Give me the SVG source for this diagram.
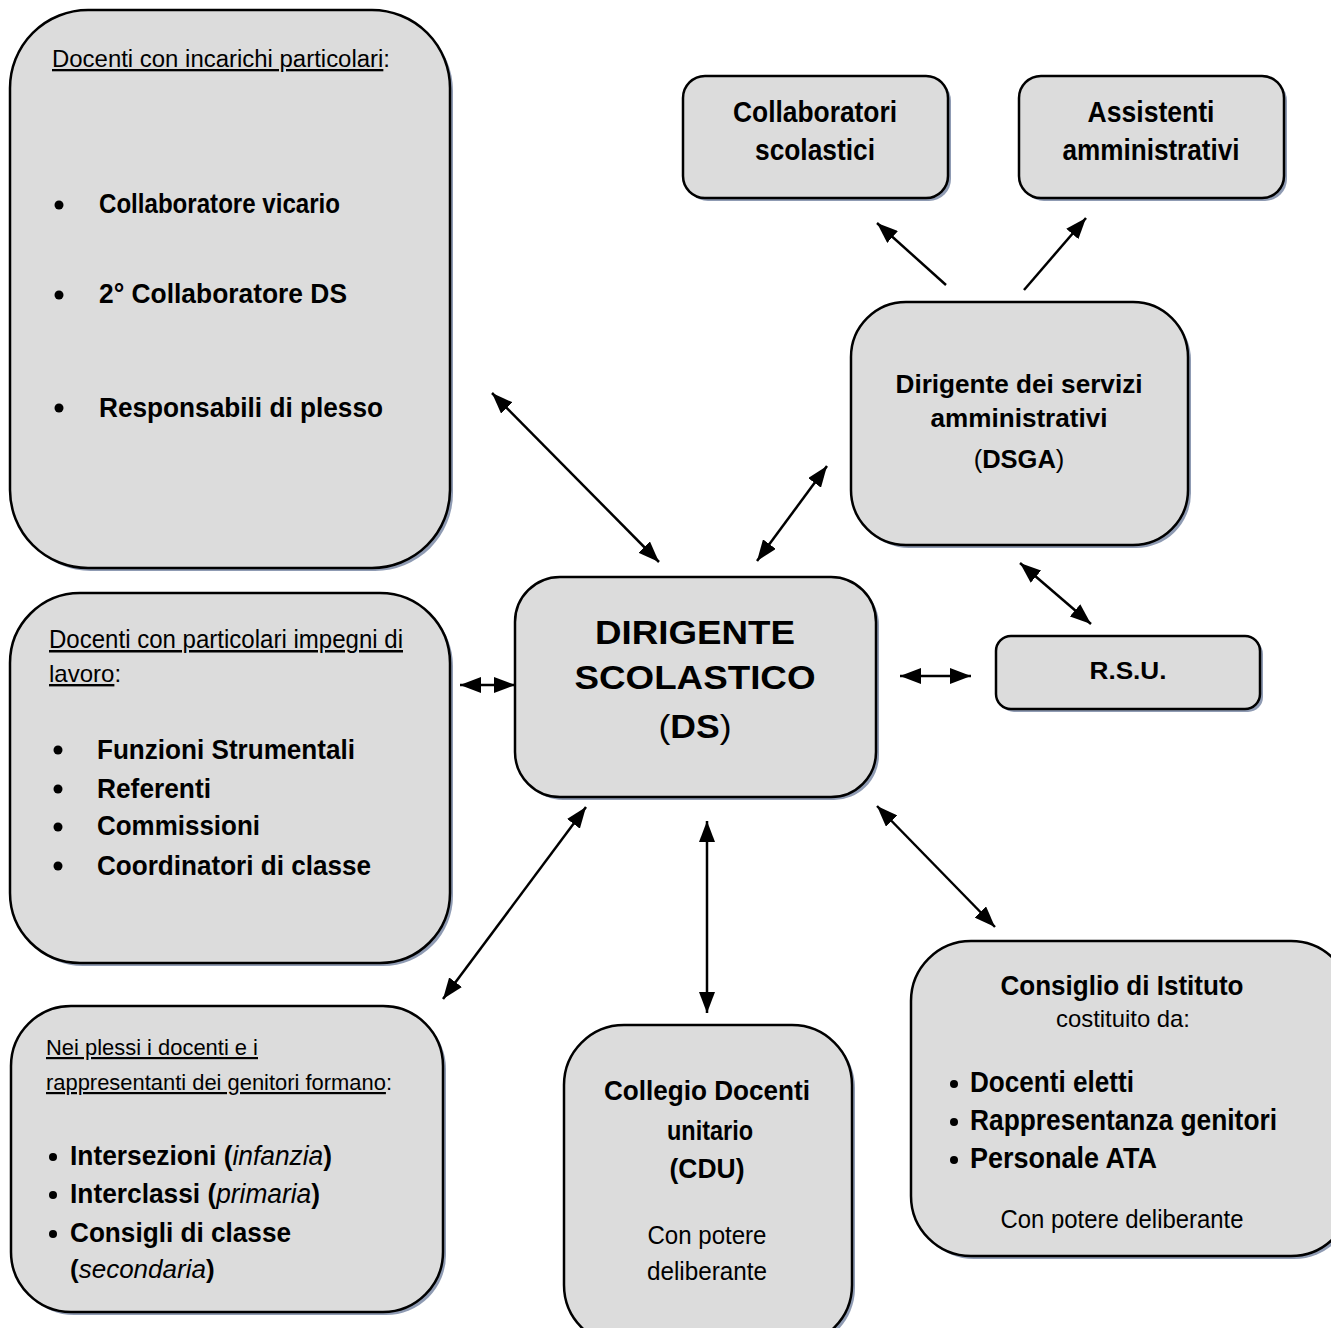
<svg xmlns="http://www.w3.org/2000/svg" width="1331" height="1328" viewBox="0 0 1331 1328">
<style>
.box{fill:#dcdcdc;stroke:#000;stroke-width:2.5}
.sh{fill:#8f9bb3;stroke:none}
.n{font-family:"Liberation Sans",Arial,sans-serif;fill:#000}
.b{font-weight:bold}
.c{text-anchor:middle}
.u{text-decoration:underline}
.con line{stroke:#000;stroke-width:2.5}
</style>
<defs>
<marker id="ah" viewBox="0 0 10 10" refX="10" refY="5" markerWidth="21" markerHeight="16" markerUnits="userSpaceOnUse" orient="auto-start-reverse" preserveAspectRatio="none">
<path d="M0,0 L10,5 L0,10 z" fill="#000"/>
</marker>
</defs>
<rect width="1331" height="1328" fill="#fff"/>

<g id="docenti-incarichi">
<rect class="sh" x="13" y="13" width="440" height="558" rx="78"/>
<rect class="box" x="10" y="10" width="440" height="558" rx="78"/>
<text class="n" x="52" y="67" font-size="23" textLength="338" lengthAdjust="spacingAndGlyphs"><tspan class="u">Docenti con incarichi particolari</tspan>:</text>
<circle cx="59" cy="205" r="4.5"/>
<text class="n b" x="99" y="213" font-size="27" textLength="241" lengthAdjust="spacingAndGlyphs">Collaboratore vicario</text>
<circle cx="59" cy="295" r="4.5"/>
<text class="n b" x="99" y="303" font-size="27" textLength="248" lengthAdjust="spacingAndGlyphs">2° Collaboratore DS</text>
<circle cx="59" cy="408" r="4.5"/>
<text class="n b" x="99" y="417" font-size="27" textLength="284" lengthAdjust="spacingAndGlyphs">Responsabili di plesso</text>
</g>

<g id="docenti-impegni">
<rect class="sh" x="13" y="596" width="440" height="370" rx="70"/>
<rect class="box" x="10" y="593" width="440" height="370" rx="70"/>
<text class="n u" x="49" y="648" font-size="25" textLength="354" lengthAdjust="spacingAndGlyphs">Docenti con particolari impegni di</text>
<text class="n" x="49" y="682" font-size="24"><tspan class="u">lavoro</tspan>:</text>
<circle cx="58" cy="750" r="4.5"/>
<text class="n b" x="97" y="759" font-size="28" textLength="258" lengthAdjust="spacingAndGlyphs">Funzioni Strumentali</text>
<circle cx="58" cy="789" r="4.5"/>
<text class="n b" x="97" y="798" font-size="28" textLength="114" lengthAdjust="spacingAndGlyphs">Referenti</text>
<circle cx="58" cy="827" r="4.5"/>
<text class="n b" x="97" y="835" font-size="28" textLength="163" lengthAdjust="spacingAndGlyphs">Commissioni</text>
<circle cx="58" cy="866" r="4.5"/>
<text class="n b" x="97" y="875" font-size="28" textLength="274" lengthAdjust="spacingAndGlyphs">Coordinatori di classe</text>
</g>

<g id="plessi">
<rect class="sh" x="14" y="1009" width="432" height="306" rx="60"/>
<rect class="box" x="11" y="1006" width="432" height="306" rx="60"/>
<text class="n u" x="46" y="1055" font-size="22" textLength="212" lengthAdjust="spacingAndGlyphs">Nei plessi i docenti e i</text>
<text class="n" x="46" y="1090" font-size="22" textLength="346" lengthAdjust="spacingAndGlyphs"><tspan class="u">rappresentanti dei genitori formano</tspan>:</text>
<circle cx="53" cy="1157" r="4"/>
<text class="n" x="70" y="1165" font-size="27" textLength="262" lengthAdjust="spacingAndGlyphs"><tspan class="b">Intersezioni (</tspan><tspan font-style="italic">infanzia</tspan><tspan class="b">)</tspan></text>
<circle cx="53" cy="1195" r="4"/>
<text class="n" x="70" y="1203" font-size="27" textLength="250" lengthAdjust="spacingAndGlyphs"><tspan class="b">Interclassi (</tspan><tspan font-style="italic">primaria</tspan><tspan class="b">)</tspan></text>
<circle cx="53" cy="1234" r="4"/>
<text class="n b" x="70" y="1242" font-size="27" textLength="221" lengthAdjust="spacingAndGlyphs">Consigli di classe</text>
<text class="n" x="70" y="1278" font-size="26"><tspan class="b">(</tspan><tspan font-style="italic">secondaria</tspan><tspan class="b">)</tspan></text>
</g>

<g id="ds">
<rect class="sh" x="518" y="580" width="361" height="220" rx="45"/>
<rect class="box" x="515" y="577" width="361" height="220" rx="45"/>
<text class="n b c" x="695" y="644" font-size="34" textLength="200" lengthAdjust="spacingAndGlyphs">DIRIGENTE</text>
<text class="n b c" x="695" y="689" font-size="34" textLength="241" lengthAdjust="spacingAndGlyphs">SCOLASTICO</text>
<text class="n c" x="695" y="738" font-size="34" textLength="73" lengthAdjust="spacingAndGlyphs">(<tspan class="b">DS</tspan>)</text>
</g>

<g id="collaboratori">
<rect class="sh" x="686" y="79" width="265" height="122" rx="22"/>
<rect class="box" x="683" y="76" width="265" height="122" rx="22"/>
<text class="n b c" x="815" y="122" font-size="29" textLength="164" lengthAdjust="spacingAndGlyphs">Collaboratori</text>
<text class="n b c" x="815" y="160" font-size="29" textLength="120" lengthAdjust="spacingAndGlyphs">scolastici</text>
</g>

<g id="assistenti">
<rect class="sh" x="1022" y="79" width="265" height="122" rx="22"/>
<rect class="box" x="1019" y="76" width="265" height="122" rx="22"/>
<text class="n b c" x="1151" y="122" font-size="29" textLength="127" lengthAdjust="spacingAndGlyphs">Assistenti</text>
<text class="n b c" x="1151" y="160" font-size="29" textLength="177" lengthAdjust="spacingAndGlyphs">amministrativi</text>
</g>

<g id="dsga">
<rect class="sh" x="854" y="305" width="337" height="243" rx="55"/>
<rect class="box" x="851" y="302" width="337" height="243" rx="55"/>
<text class="n b c" x="1019" y="393" font-size="26" textLength="247" lengthAdjust="spacingAndGlyphs">Dirigente dei servizi</text>
<text class="n b c" x="1019" y="427" font-size="26" textLength="177" lengthAdjust="spacingAndGlyphs">amministrativi</text>
<text class="n c" x="1019" y="468" font-size="25.5">(<tspan class="b">DSGA</tspan>)</text>
</g>

<g id="rsu">
<rect class="sh" x="999" y="639" width="264" height="73" rx="15"/>
<rect class="box" x="996" y="636" width="264" height="73" rx="15"/>
<text class="n b c" x="1128" y="679" font-size="23" textLength="77" lengthAdjust="spacingAndGlyphs">R.S.U.</text>
</g>

<g id="cdu">
<rect class="sh" x="567" y="1028" width="288" height="320" rx="60"/>
<rect class="box" x="564" y="1025" width="288" height="320" rx="60"/>
<text class="n b c" x="707" y="1100" font-size="28" textLength="206" lengthAdjust="spacingAndGlyphs">Collegio Docenti</text>
<text class="n b c" x="710" y="1140" font-size="28" textLength="86" lengthAdjust="spacingAndGlyphs">unitario</text>
<text class="n b c" x="707" y="1178" font-size="28" textLength="75" lengthAdjust="spacingAndGlyphs">(CDU)</text>
<text class="n c" x="707" y="1244" font-size="26" textLength="119" lengthAdjust="spacingAndGlyphs">Con potere</text>
<text class="n c" x="707" y="1280" font-size="26" textLength="120" lengthAdjust="spacingAndGlyphs">deliberante</text>
</g>

<g id="consiglio-istituto">
<rect class="sh" x="914" y="944" width="440" height="315" rx="60"/>
<rect class="box" x="911" y="941" width="440" height="315" rx="60"/>
<text class="n b c" x="1122" y="995" font-size="28" textLength="243" lengthAdjust="spacingAndGlyphs">Consiglio di Istituto</text>
<text class="n c" x="1123" y="1027" font-size="24" textLength="134" lengthAdjust="spacingAndGlyphs">costituito da:</text>
<circle cx="954" cy="1084" r="4"/>
<text class="n b" x="970" y="1092" font-size="29" textLength="164" lengthAdjust="spacingAndGlyphs">Docenti eletti</text>
<circle cx="954" cy="1122" r="4"/>
<text class="n b" x="970" y="1130" font-size="29" textLength="307" lengthAdjust="spacingAndGlyphs">Rappresentanza genitori</text>
<circle cx="954" cy="1160" r="4"/>
<text class="n b" x="970" y="1168" font-size="29" textLength="187" lengthAdjust="spacingAndGlyphs">Personale ATA</text>
<text class="n c" x="1122" y="1228" font-size="26" textLength="243" lengthAdjust="spacingAndGlyphs">Con potere deliberante</text>
</g>

<g id="connectors" class="con">
<line x1="492" y1="393" x2="659" y2="562" marker-start="url(#ah)" marker-end="url(#ah)"/>
<line x1="757" y1="561" x2="827" y2="466" marker-start="url(#ah)" marker-end="url(#ah)"/>
<line x1="946" y1="285" x2="877" y2="223" marker-end="url(#ah)"/>
<line x1="1024" y1="290" x2="1086" y2="218" marker-end="url(#ah)"/>
<line x1="1020" y1="563" x2="1091" y2="624" marker-start="url(#ah)" marker-end="url(#ah)"/>
<line x1="900" y1="676" x2="971" y2="676" marker-start="url(#ah)" marker-end="url(#ah)"/>
<line x1="460" y1="685" x2="515" y2="685" marker-start="url(#ah)" marker-end="url(#ah)"/>
<line x1="586" y1="807" x2="443" y2="999" marker-start="url(#ah)" marker-end="url(#ah)"/>
<line x1="707" y1="821" x2="707" y2="1013" marker-start="url(#ah)" marker-end="url(#ah)"/>
<line x1="877" y1="806" x2="995" y2="927" marker-start="url(#ah)" marker-end="url(#ah)"/>
</g>
</svg>
